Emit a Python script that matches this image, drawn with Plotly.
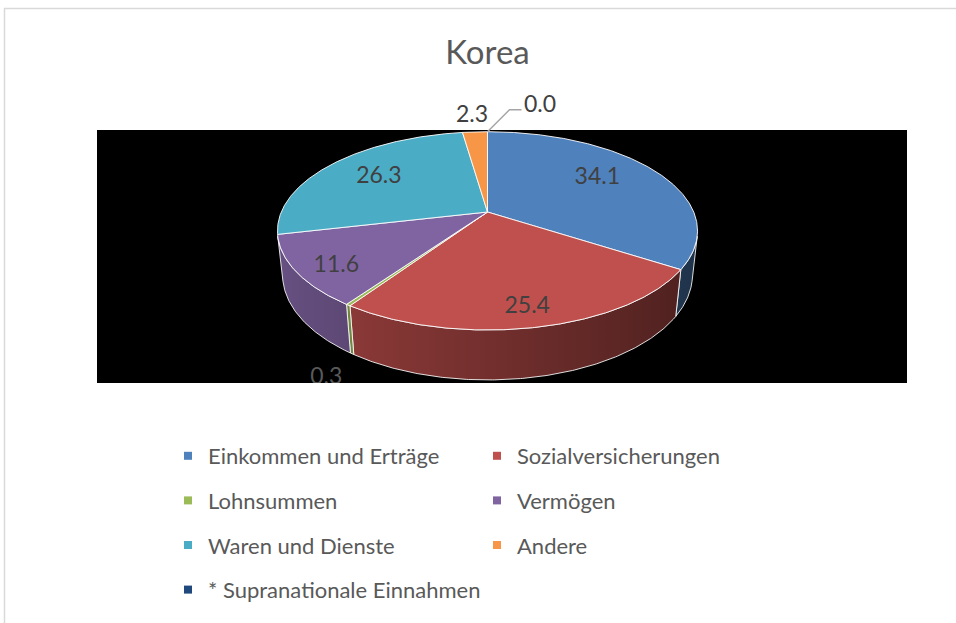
import numpy as np
import plotly.graph_objects as go

# ---------------- data ----------------
TITLE = "Korea"
CATEGORIES = ["Einkommen und Erträge", "Sozialversicherungen", "Lohnsummen",
              "Vermögen", "Waren und Dienste", "Andere", "* Supranationale Einnahmen"]
VALUES = [34.1, 25.4, 0.3, 11.6, 26.3, 2.3, 0.0]
VALUE_LABELS = ["34.1", "25.4", "0.3", "11.6", "26.3", "2.3", "0.0"]
COLORS = ["#4F81BD", "#C0504D", "#9BBB59", "#8064A2", "#4BACC6", "#F79646", "#1F497D"]

# ---------------- layout / geometry ----------------
W, H = 956, 623
PX0, PX1, PY0, PY1 = 97, 907, 130, 383          # black plot area in pixels
CX, CY = 487.5, 212.0                            # projected pie centre
PHI = np.radians(27.6)                           # elevation
DIST = 4.66                                      # camera distance (radius units)
FOCAL = 961.0
THICK = 0.2437
LABEL_RADIUS = [0.64, 0.82, 1.16, 0.81, 0.685, 1.3, 1.0]
LABEL_LEVEL = [0.15, -0.1, -1.12, -0.15, 0.0, 0.0, 0.0]   # in units of THICK
OUTSIDE = [False, False, False, False, False, True, True]
FONT = "Lato"
TEXT_GREY = "#595959"
LABEL_COLOR = "#404040"
LABEL_SIZE = 23


def proj(theta_deg, r, z):
    t = np.radians(theta_deg)
    u = r * np.sin(t)
    v = r * np.cos(t)
    c, s = np.cos(PHI), np.sin(PHI)
    up = z * c + v * s
    depth = DIST + v * c - z * s
    return CX + FOCAL * u / depth, CY - FOCAL * up / depth


def px_x(p):
    return (p - PX0) / (PX1 - PX0)


def px_y(p):
    return (PY1 - p) / (PY1 - PY0)


def hex2rgb(h):
    h = h.lstrip("#")
    return tuple(int(h[i:i + 2], 16) for i in (0, 2, 4))


def shade(color, theta):
    k = 0.6 - 0.22 * np.sin(np.radians(theta))
    r, g, b = hex2rgb(color)
    return f"rgb({int(r * k)},{int(g * k)},{int(b * k)})"


total = sum(VALUES)
cum = np.concatenate([[0], np.cumsum(VALUES)]) / total * 360.0
starts, ends = cum[:-1], cum[1:]

fig = go.Figure()

# ---- side walls (only front-facing part) ----
th_vis = np.degrees(np.arccos(-1.0 / (DIST * np.cos(PHI))))
vis_lo, vis_hi = th_vis, 360 - th_vis
for i, (a, b) in enumerate(zip(starts, ends)):
    lo, hi = max(a, vis_lo), min(b, vis_hi)
    if hi <= lo:
        continue
    n = max(4, int((hi - lo) * 2))
    th = np.linspace(lo, hi, n)
    xt, yt = proj(th, 1.0, 0.0)
    xb, yb = proj(th[::-1], 1.0, -THICK)
    xs = np.concatenate([xt, xb, xt[:1]])
    ys = np.concatenate([yt, yb, yt[:1]])
    xmin, xmax = float(xt.min()), float(xt.max())
    kw = dict(fillcolor=shade(COLORS[i], (lo + hi) / 2))
    if xmax - xmin > 2:
        samp = np.linspace(lo, hi, 9)
        sx, _ = proj(samp, 1.0, 0.0)
        order = np.argsort(sx)
        pos = (sx[order] - xmin) / (xmax - xmin)
        pos[0], pos[-1] = 0.0, 1.0
        cs = [[float(p), shade(COLORS[i], samp[j])] for p, j in zip(pos, order)]
        kw["fillgradient"] = dict(type="horizontal", colorscale=cs, start=xmin, stop=xmax)
    fig.add_trace(go.Scatter(x=xs, y=ys, mode="lines", fill="toself",
                             line=dict(color="rgba(255,255,255,0.85)", width=1),
                             hoverinfo="skip", showlegend=False, **kw))

# ---- top faces ----
for i, (a, b) in enumerate(zip(starts, ends)):
    if b - a <= 0:
        continue
    n = max(3, int((b - a) * 2))
    th = np.linspace(a, b, n)
    xr, yr = proj(th, 1.0, 0.0)
    xs = np.concatenate([[CX], xr, [CX]])
    ys = np.concatenate([[CY], yr, [CY]])
    fig.add_trace(go.Scatter(x=xs, y=ys, mode="lines", fill="toself",
                             fillcolor=COLORS[i],
                             line=dict(color="rgba(255,255,255,0.9)", width=1),
                             hoverinfo="skip", showlegend=False))

# ---- data labels ----
mid = (starts + ends) / 2
lx, ly = [], []
for i in range(len(VALUES)):
    x, y = proj(mid[i], LABEL_RADIUS[i], LABEL_LEVEL[i] * THICK)
    lx.append(float(x))
    ly.append(float(y))

inside_idx = [i for i in range(len(VALUES)) if not OUTSIDE[i]]
fig.add_trace(go.Scatter(
    x=[lx[i] for i in inside_idx], y=[ly[i] for i in inside_idx],
    text=[VALUE_LABELS[i] for i in inside_idx], mode="text",
    textfont=dict(family=FONT, size=LABEL_SIZE,
                  color=[TEXT_GREY if LABEL_LEVEL[i] < -0.5 else LABEL_COLOR for i in inside_idx]),
    cliponaxis=True, hoverinfo="skip", showlegend=False))

# outside label for 2.3 (above the pie)
fig.add_annotation(x=px_x(lx[5]), y=px_y(ly[5]), xref="paper", yref="paper",
                   xanchor="center", yanchor="middle",
                   text=VALUE_LABELS[5], showarrow=False,
                   font=dict(family=FONT, size=LABEL_SIZE, color=LABEL_COLOR))

# leader-line label for 0.0
ax0, ay0 = proj(starts[6], 1.0, 0.0)
elbow = (ax0 + 22, ay0 - 22)
end = (elbow[0] + 12, elbow[1])
fig.add_shape(type="path", xref="paper", yref="paper",
              path=f"M {px_x(ax0)} {px_y(ay0)} L {px_x(elbow[0])} {px_y(elbow[1])} "
                   f"L {px_x(end[0])} {px_y(end[1])}",
              line=dict(color="#A6A6A6", width=1.5))
fig.add_annotation(x=px_x(end[0] + 1), y=px_y(end[1] - 7), xref="paper", yref="paper",
                   xanchor="left", yanchor="middle", text=VALUE_LABELS[6], showarrow=False,
                   font=dict(family=FONT, size=LABEL_SIZE, color=LABEL_COLOR))

# ---- legend entries ----
for i, cat in enumerate(CATEGORIES):
    fig.add_trace(go.Scatter(x=[None], y=[None], mode="markers", name=cat,
                             marker=dict(symbol="square", size=8, color=COLORS[i]),
                             legend="legend" if i % 2 == 0 else "legend2",
                             legendgroup=cat))

# ---- chart frame ----
fig.add_shape(type="path", xref="paper", yref="paper",
              path=f"M {px_x(4.5)} {px_y(623)} L {px_x(4.5)} {px_y(8.5)} L {px_x(956)} {px_y(8.5)}",
              line=dict(color="#D9D9D9", width=1.5))

legend_common = dict(orientation="v", xanchor="left", yanchor="top",
                     font=dict(family=FONT, size=22, color=TEXT_GREY),
                     tracegroupgap=13, bgcolor="rgba(0,0,0,0)", itemclick=False,
                     itemdoubleclick=False)

fig.update_layout(
    width=W, height=H, autosize=False,
    margin=dict(l=PX0, r=W - PX1, t=PY0, b=H - PY1, autoexpand=False),
    paper_bgcolor="white", plot_bgcolor="black",
    title=dict(text=TITLE, x=487.5 / W, xanchor="center", y=1 - 52 / H, yanchor="middle",
               yref="container", font=dict(family=FONT, size=33, color=TEXT_GREY)),
    xaxis=dict(range=[PX0, PX1], visible=False, fixedrange=True),
    yaxis=dict(range=[PY1, PY0], visible=False, fixedrange=True),
    legend=dict(x=px_x(168), y=px_y(435), **legend_common),
    legend2=dict(x=px_x(477), y=px_y(435), **legend_common),
    showlegend=True,
)

fig.write_html("out.html", config={"displayModeBar": False},
               post_script="document.body.style.margin='0';")
